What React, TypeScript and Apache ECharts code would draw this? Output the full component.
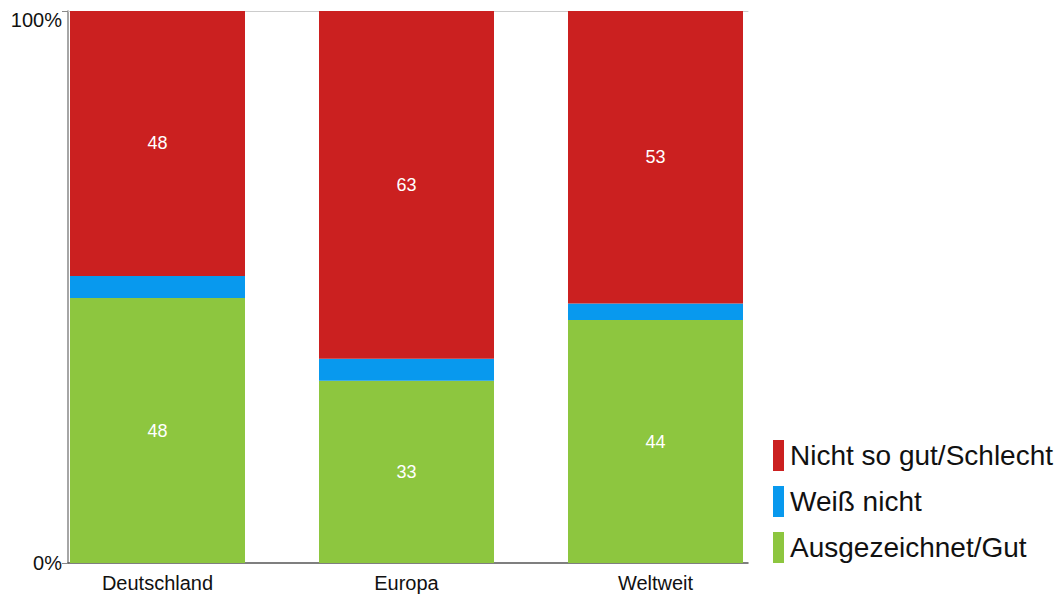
import React, { useEffect, useRef } from "react";
import * as echarts from "echarts";

const categories = ["Deutschland", "Europa", "Weltweit"];
const gutValues = [48, 33, 44];
const weissNichtValues = [4, 4, 3];
const schlechtValues = [48, 63, 53];
const seriesNames = ["Ausgezeichnet/Gut", "Weiß nicht", "Nicht so gut/Schlecht"];
const yTickLabels = ["0%", "100%"];

const FONT = "'Liberation Sans', Arial, Helvetica, sans-serif";

export default function App() {
  const ref = useRef<HTMLDivElement>(null);
  useEffect(() => {
    document.body.style.margin = "0";
    const chart = echarts.init(ref.current!, null, { renderer: "svg" });
    const label = {
      show: true,
      position: "inside",
      color: "#fff",
      fontSize: 18,
      fontFamily: FONT,
    };
    chart.setOption({
      animation: false,
      textStyle: { fontFamily: FONT },
      grid: [
        { left: 33, right: 279, top: 11, bottom: 34, containLabel: false },
        { left: 68, right: 311, top: 11, bottom: 34, containLabel: false },
      ],
      legend: {
        orient: "vertical",
        left: 768,
        top: 435,
        icon: "rect",
        itemWidth: 11,
        itemHeight: 31,
        itemGap: 15,
        data: ["Nicht so gut/Schlecht", "Weiß nicht", "Ausgezeichnet/Gut"],
        textStyle: { fontSize: 28, color: "#111", fontFamily: FONT, padding: [0, 0, 0, 1] },
      },
      xAxis: [
        {
          type: "category",
          gridIndex: 0,
          data: categories,
          boundaryGap: true,
          axisLine: { show: false },
          axisTick: { show: false },
          splitLine: { show: false },
          axisLabel: { color: "#111", fontSize: 20, fontFamily: FONT, margin: 10 },
        },
        {
          type: "value",
          gridIndex: 1,
          position: "bottom",
          min: 0,
          max: 1,
          splitLine: { show: false },
          axisLine: { show: true, onZero: false, lineStyle: { color: "#555", width: 1.5 } },
          axisTick: { show: false },
          axisLabel: { show: false },
        },
        {
          type: "value",
          gridIndex: 1,
          position: "top",
          min: 0,
          max: 1,
          splitLine: { show: false },
          axisLine: { show: true, onZero: false, lineStyle: { color: "#cccccc", width: 1 } },
          axisTick: { show: false },
          axisLabel: { show: false },
        },
      ],
      yAxis: [
        {
          type: "value",
          gridIndex: 0,
          min: 0,
          max: 100,
          show: false,
        },
        {
          type: "value",
          gridIndex: 1,
          min: 0,
          max: 100,
          interval: 100,
          splitLine: { show: false },
          axisLine: { show: true, onZero: false, lineStyle: { color: "#888", width: 1.5 } },
          axisTick: { show: true, length: 6, lineStyle: { color: "#888" } },
          axisLabel: {
            formatter: (v: number) => (v === 0 ? yTickLabels[0] : "{t|" + yTickLabels[1] + "}"),
            color: "#111",
            fontSize: 20,
            fontFamily: FONT,
            margin: 6,
            rich: {
              t: { fontSize: 20, fontFamily: FONT, color: "#111", padding: [18, 0, 0, 0] },
            },
          },
        },
      ],
      series: [
        {
          name: seriesNames[0],
          type: "bar",
          stack: "t",
          xAxisIndex: 0,
          yAxisIndex: 0,
          barWidth: 175,
          data: gutValues,
          itemStyle: { color: "#8dc63f" },
          label,
        },
        {
          name: seriesNames[1],
          type: "bar",
          stack: "t",
          xAxisIndex: 0,
          yAxisIndex: 0,
          barWidth: 175,
          data: weissNichtValues,
          itemStyle: { color: "#0899ee" },
        },
        {
          name: seriesNames[2],
          type: "bar",
          stack: "t",
          xAxisIndex: 0,
          yAxisIndex: 0,
          barWidth: 175,
          data: schlechtValues,
          itemStyle: { color: "#cb2020" },
          label,
        },
      ],
    });
    return () => chart.dispose();
  }, []);
  return <div ref={ref} style={{ width: 1059, height: 597 }} />;
}
